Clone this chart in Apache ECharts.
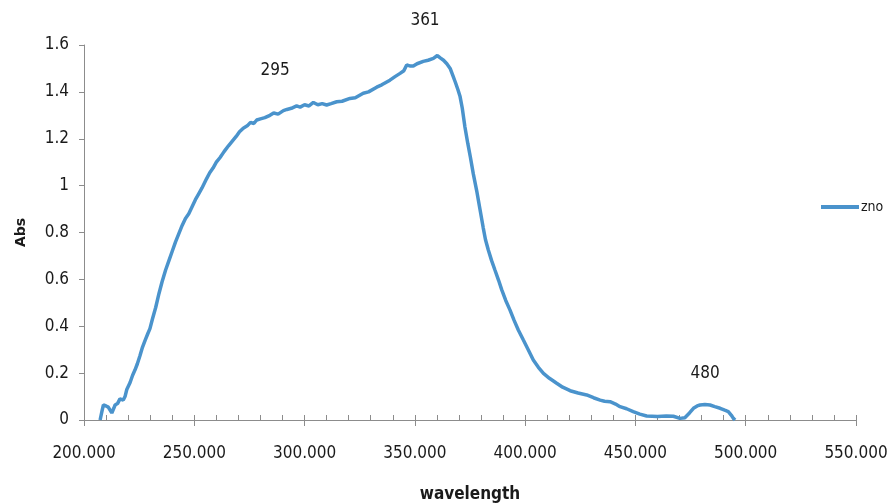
<!DOCTYPE html>
<html>
<head>
<meta charset="utf-8">
<script src="https://cdn.jsdelivr.net/npm/echarts@6/dist/echarts.min.js"></script>
<style>
html,body{margin:0;padding:0;background:#fff;}
#c{width:890px;height:503px;}
</style>
</head>
<body>
<div id="c"></div>
<script>
// Data
const seriesName = 'zno';
const wavelength = [207.3,208.2,208.8,210,211,212.6,213.5,214.1,215.2,216.3,217.8,218.6,219.4,220.9,222,223.1,224.2,225.4,226.5,227.7,229,229.9,231,232.5,234,235.4,237,238.5,240,241.5,243,244.5,246,247.5,249,250.5,252,253.5,255.6,257,258.5,260,261.7,263.5,265.5,267.7,269,270.5,272.2,274,275.5,277,278.3,280,282,284.3,286,288,290.4,292,294,296.4,298,300,302,304,306,308,310,312,314.6,317,320.6,323,326.6,329,332.7,335,338.7,341,343.3,345,346.3,348,349.3,351,353.8,356,358.4,360.2,361.5,363,364.5,366,367.2,368.4,369.5,370.5,371.5,372.7,374,375.2,376.5,378,379.5,381,382,383.3,384.8,386.3,388,389.4,391.2,393.1,395,396.9,399.2,401.4,403.7,406,408.3,411,414.3,417,420.4,424,427.9,431,434,436,438.5,441,443,446,449,452,455.1,460,464,467.2,470.2,472.4,474.5,476.3,478,479.3,481.5,483.8,486,488.4,490.5,492.1,493.5,494.4,495.2];
const absorbance = [0,0.04,0.064,0.06,0.055,0.03,0.05,0.064,0.07,0.09,0.085,0.1,0.13,0.16,0.19,0.213,0.24,0.275,0.31,0.34,0.37,0.39,0.43,0.48,0.54,0.59,0.64,0.68,0.72,0.76,0.795,0.83,0.86,0.88,0.91,0.94,0.965,0.99,1.03,1.055,1.075,1.10,1.12,1.145,1.17,1.195,1.21,1.23,1.245,1.255,1.27,1.265,1.28,1.285,1.29,1.30,1.31,1.305,1.32,1.325,1.33,1.34,1.335,1.345,1.34,1.355,1.345,1.35,1.344,1.35,1.358,1.36,1.372,1.375,1.394,1.40,1.42,1.43,1.45,1.465,1.479,1.49,1.515,1.51,1.51,1.52,1.53,1.535,1.543,1.555,1.545,1.535,1.52,1.50,1.47,1.44,1.41,1.38,1.33,1.25,1.18,1.12,1.05,0.98,0.90,0.82,0.77,0.725,0.68,0.64,0.595,0.555,0.51,0.47,0.425,0.384,0.341,0.30,0.256,0.225,0.199,0.178,0.157,0.14,0.125,0.115,0.107,0.095,0.085,0.08,0.078,0.068,0.057,0.048,0.036,0.025,0.017,0.015,0.017,0.016,0.007,0.01,0.03,0.05,0.06,0.064,0.066,0.064,0.057,0.05,0.042,0.036,0.02,0.007,0];
const peakLabels = ['295','361','480'];
const peakLabelX = [286.6,354.6,481.6];
const peakLabelY = [1.493,1.705,0.2];
const xTickMin = 200, xTickMax = 550, xTickStep = 50;
const yTickMin = 0, yTickMax = 1.6, yTickStep = 0.2;

const FONT = '"DejaVu Sans Condensed","Liberation Sans Narrow",sans-serif';
const TXT = '#1a1a1a';
const AXC = '#8c8c8c';
const LINE = '#4a93cc';

const chart = echarts.init(document.getElementById('c'), null, {renderer:'canvas'});
const data = wavelength.map((w,i)=>[w, absorbance[i]]);

chart.setOption({
  animation:false,
  backgroundColor:'#fff',
  grid:{left:84,right:34,top:45,bottom:83,containLabel:false,outerBoundsMode:'none'},
  legend:{
    data:[seriesName], orient:'vertical', left:816, top:195,
    icon:'rect', itemWidth:38, itemHeight:4, itemGap:4,
    textStyle:{fontFamily:FONT,fontSize:14,color:TXT,padding:[0,0,0,-3]}
  },
  xAxis:[{
    type:'value', min:xTickMin, max:xTickMax, interval:xTickStep,
    name:'wavelength', nameLocation:'middle', nameGap:66,
    nameTextStyle:{fontFamily:FONT,fontSize:17,fontWeight:'bold',color:TXT},
    axisLine:{show:true,lineStyle:{color:AXC,width:1}},
    axisTick:{show:true,inside:true,length:5,lineStyle:{color:AXC}},
    minorTick:{show:true,splitNumber:5,length:5,lineStyle:{color:AXC}},
    splitLine:{show:false},
    axisLabel:{fontFamily:FONT,fontSize:17,color:TXT,margin:25,formatter:v=>v.toFixed(3)}
  },{
    type:'value', min:xTickMin, max:xTickMax, interval:xTickStep, position:'bottom',
    axisLine:{show:false}, axisLabel:{show:false}, splitLine:{show:false},
    axisTick:{show:true,inside:false,length:6,lineStyle:{color:AXC}}
  }],
  yAxis:{
    type:'value', min:yTickMin, max:yTickMax, interval:yTickStep,
    name:'Abs', nameLocation:'middle', nameGap:56, nameRotate:90,
    nameTextStyle:{fontFamily:'"DejaVu Sans","Liberation Sans",sans-serif',fontSize:14,fontWeight:'bold',color:TXT},
    axisLine:{show:true,lineStyle:{color:AXC,width:1}},
    axisTick:{show:true,inside:false,length:5,lineStyle:{color:AXC}},
    splitLine:{show:false},
    axisLabel:{fontFamily:FONT,fontSize:17,color:TXT,margin:15}
  },
  series:[{
    name:seriesName, type:'line', xAxisIndex:0, data:data,
    symbol:'none', smooth:false,
    lineStyle:{color:LINE,width:3.5}, itemStyle:{color:LINE},
    clip:false
  }]
});

// Peak annotations positioned through the chart's own scales
chart.setOption({
  graphic: peakLabels.map((t,i)=>{
    const p = chart.convertToPixel({xAxisIndex:0,yAxisIndex:0},[peakLabelX[i],peakLabelY[i]]);
    return {type:'text', x:p[0], y:p[1], style:{text:t, fontFamily:FONT, fontSize:17, fill:TXT, align:'center', verticalAlign:'middle'}};
  })
});
</script>
</body>
</html>
